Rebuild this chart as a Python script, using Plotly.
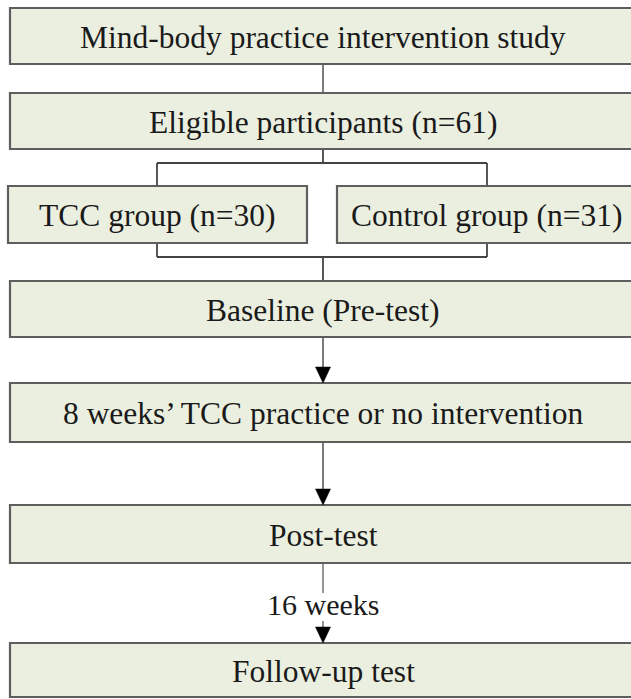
import plotly.graph_objects as go

# ---- content ----
main_labels = [
    "Mind-body practice intervention study",
    "Eligible participants (n=61)",
    "Baseline (Pre-test)",
    "8 weeks\u2019 TCC practice or no intervention",
    "Post-test",
    "Follow-up test",
]
group_labels = ["TCC group (n=30)", "Control group (n=31)"]
interval_label = "16 weeks"

# ---- geometry (pixel-like axis units) ----
W, H = 631, 699
main_top = [8, 93, 281, 383, 505, 643]
main_bottom = [64, 149, 337, 442, 563, 697]
box_left, box_right = 10, 636
group_left = [8, 337]
group_right = [307, 636]
group_top, group_bottom = 186, 243
cx = 323
split_y_top, split_y_bot = 163, 257

FILL = "#EBEFE0"
BORDER = "#5E5E5E"
LINE = "#6E6E6E"
TEXT = "#1A1A1A"
FONT = dict(family="Liberation Serif, Times New Roman, serif", size=31.5, color=TEXT)

fig = go.Figure()
shapes = []
annotations = []

def box(x0, y0, x1, y1):
    shapes.append(dict(type="rect", xref="x", yref="y", x0=x0, y0=y0, x1=x1, y1=y1,
                       fillcolor=FILL, line=dict(color=BORDER, width=2.2), layer="above"))

def seg(x0, y0, x1, y1, color=LINE, width=1.8):
    shapes.append(dict(type="line", xref="x", yref="y", x0=x0, y0=y0, x1=x1, y1=y1,
                       line=dict(color=color, width=width), layer="below"))

def arrowhead(x, ytip, w=7.5, h=16):
    shapes.append(dict(type="path", xref="x", yref="y",
                       path=f"M {x-w},{ytip-h} L {x+w},{ytip-h} L {x},{ytip} Z",
                       fillcolor="black", line=dict(color="black", width=0.5), layer="above"))

# main boxes
for lab, t, b in zip(main_labels, main_top, main_bottom):
    box(box_left, t, box_right, b)
    annotations.append(dict(x=cx, y=(t + b) / 2 + 1, xref="x", yref="y", text=lab,
                            showarrow=False, font=FONT, xanchor="center", yanchor="middle"))

# group boxes
for lab, l, r in zip(group_labels, group_left, group_right):
    box(l, group_top, r, group_bottom)
    annotations.append(dict(x=(l + r) / 2, y=(group_top + group_bottom) / 2 + 1, xref="x", yref="y",
                            text=lab, showarrow=False, font=FONT, xanchor="center", yanchor="middle"))

gx = [(l + r) / 2 for l, r in zip(group_left, group_right)]
gx = [157, 487]

# connector 1 -> 2
seg(cx, main_bottom[0], cx, main_top[1])
# split
seg(cx, main_bottom[1], cx, split_y_top, color="#444444")
seg(gx[0], split_y_top, gx[1], split_y_top, color="#444444")
for x in gx:
    seg(x, split_y_top, x, group_top, color="#444444")
    seg(x, group_bottom, x, split_y_bot, color="#444444")
seg(gx[0], split_y_bot, gx[1], split_y_bot, color="#444444")
seg(cx, split_y_bot, cx, main_top[2], color="#444444")

# arrows
seg(cx, main_bottom[2], cx, main_top[3] - 10)
arrowhead(cx, main_top[3])
seg(cx, main_bottom[3], cx, main_top[4] - 10)
arrowhead(cx, main_top[4])

# post-test -> follow-up with label
seg(cx, main_bottom[4], cx, 593, color="#8A8A8A")
seg(cx, 621, cx, main_top[5] - 10, color="#8A8A8A")
arrowhead(cx, main_top[5])
annotations.append(dict(x=cx, y=604, xref="x", yref="y", text=interval_label, showarrow=False,
                        font=dict(family=FONT["family"], size=30, color=TEXT),
                        xanchor="center", yanchor="middle"))

fig.update_layout(
    width=W, height=H,
    margin=dict(l=0, r=0, t=0, b=0),
    paper_bgcolor="white", plot_bgcolor="white",
    xaxis=dict(range=[0, W], visible=False, fixedrange=True),
    yaxis=dict(range=[H, 0], visible=False, fixedrange=True),
    shapes=shapes, annotations=annotations,
    showlegend=False,
)

fig.write_html("out.html", config={"displayModeBar": False},
               post_script="document.body.style.margin='0';")
